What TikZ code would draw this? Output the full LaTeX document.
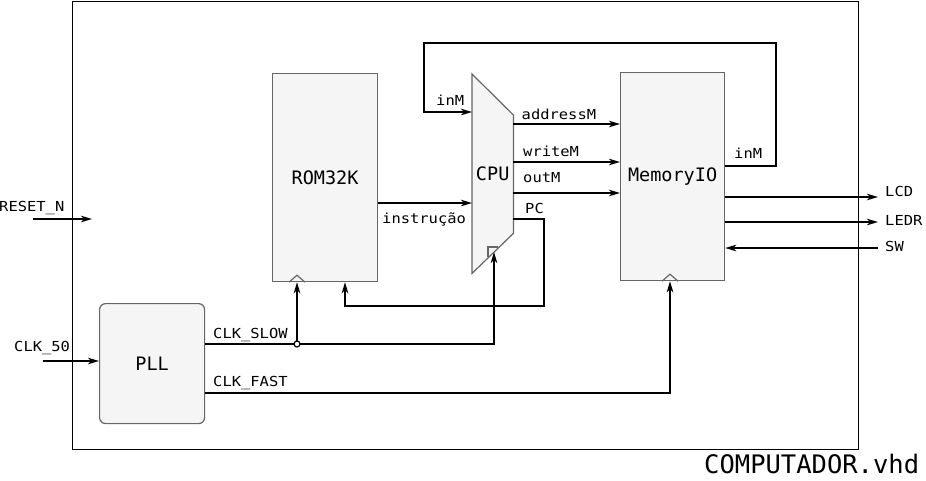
\documentclass[tikz,border=0pt]{standalone}
\usepackage{fontspec}
\setmainfont{DejaVu Sans Mono}
\newfontfamily\lblfont[FakeStretch=1.12]{DejaVu Sans Mono}
\usetikzlibrary{arrows.meta,calc}
\tikzset{
  blk/.style={draw=black!60, fill=black!4, line width=1.2pt, inner sep=0pt,
    font=\fontsize{18.5}{20}\selectfont},
  wire/.style={line width=1.7pt},
  arr/.style={wire,-{Stealth[length=11pt,width=6.5pt,inset=3pt]}},
  lbl/.style={font=\lblfont\fontsize{13.8}{15}\selectfont, inner sep=0pt, anchor=base west},
  notch/.style={draw=black!60, line width=1.2pt},
}
\begin{document}
\begin{tikzpicture}[x=1pt,y=-1pt]
\useasboundingbox (0,0) rectangle (926,480);
% outer frame
\node[draw, line width=1.3pt, minimum width=786pt, minimum height=448pt,
  anchor=north west, inner sep=0pt] (frame) at (72,1) {};
% blocks
\node[blk, minimum width=105pt, minimum height=208pt, anchor=north west] (rom) at (272,73) {ROM32K};
\node[blk, minimum width=104pt, minimum height=208pt, anchor=north west] (mem) at (620,72) {MemoryIO};
\node[blk, rounded corners=6pt, minimum width=105pt, minimum height=120pt, anchor=north west] (pll) at (99,303) {PLL};
% CPU trapezoid
\node[inner sep=0pt, minimum width=41pt, minimum height=199pt, anchor=north west] (cpu) at (472,74) {};
\draw[blk] (cpu.north west) -- ($(cpu.north east)+(0,41)$) -- ($(cpu.south east)+(0,-40)$)
  -- (cpu.south west) -- cycle;
\node[font=\fontsize{18.5}{20}\selectfont] (cpul) at (cpu.center) {CPU};
% clock marks
\draw[notch] (488,257.4) -- (488,247) -- (497.6,247);
\draw[notch] ($(rom.south west)+(17,0)$) -- ($(rom.south west)+(25,-7)$) -- ($(rom.south west)+(33,0)$);
\draw[notch] ($(mem.south west)+(42,0)$) -- ($(mem.south west)+(50,-7)$) -- ($(mem.south west)+(58,0)$);
% external inputs
\coordinate (rs0) at (33,219);
\coordinate (rs1) at (92,219);
\draw[arr] (rs0) -- (rs1);
\node[lbl] (rsl) at (-1,211) {RESET\_N};
\coordinate (c50) at (43,361);
\draw[arr] (c50) -- (c50 -| pll.west);
\node[lbl] (c50l) at (14,351) {CLK\_50};
% instrucao
\draw[arr] (rom.east |- 0,203) -- (cpu.west |- 0,203);
\node[lbl] (insl) at (382,223) {instrução};
% inM loop
\coordinate (l1) at (776,166);
\coordinate (l2) at (776,43);
\coordinate (l3) at (424,43);
\coordinate (l4) at (424,112);
\draw[arr] (mem.east |- l1) -- (l1) -- (l2) -- (l3) -- (l4) -- (cpu.west |- l4);
\node[lbl] (inml) at (436,105) {inM};
\node[lbl] (inmr) at (734,158.5) {inM};
% CPU -> MemoryIO
\draw[arr] (cpu.east |- 0,124) -- (mem.west |- 0,124);
\node[lbl] (adl) at (521.5,119.3) {addressM};
\draw[arr] (cpu.east |- 0,162) -- (mem.west |- 0,162);
\node[lbl] (wrl) at (523,156) {writeM};
\draw[arr] (cpu.east |- 0,193) -- (mem.west |- 0,193);
\node[lbl] (oul) at (523,182.7) {outM};
% PC
\coordinate (p1) at (544,219);
\coordinate (p2) at (544,306);
\coordinate (p3) at (345,306);
\draw[arr] (cpu.east |- p1) -- (p1) -- (p2) -- (p3) -- (p3 |- rom.south);
\node[lbl] (pcl) at (525,213.3) {PC};
% outputs
\coordinate (lcd) at (878,197);
\coordinate (ledr) at (878,222);
\coordinate (sw) at (878,248);
\draw[arr] (mem.east |- lcd) -- (lcd);
\draw[arr] (mem.east |- ledr) -- (ledr);
\draw[arr] (sw) -- (mem.east |- sw);
\node[lbl] (lcdl) at (885,196) {LCD};
\node[lbl] (ledrl) at (885,225) {LEDR};
\node[lbl] (swl) at (885,251.7) {SW};
% clocks
\coordinate (sl1) at (494,344);
\coordinate (cpuclk) at (494,252);
\coordinate (jn) at (297,344);
\draw[arr] (pll.east |- sl1) -- (sl1) -- (cpuclk);
\draw[arr] (jn) -- (jn |- rom.south);
\draw[line width=1.2pt, fill=white] (jn) circle (3pt);
\node[lbl] (slowl) at (213,338.3) {CLK\_SLOW};
\coordinate (f1) at (670,393);
\draw[arr] (pll.east |- f1) -- (f1) -- (f1 |- mem.south);
\node[lbl] (fastl) at (213,386.7) {CLK\_FAST};
% title
\node[font=\fontsize{25.5}{28}\selectfont, inner sep=0pt, anchor=base west] (title) at (704,473.5) {COMPUTADOR.vhd};
\end{tikzpicture}
\end{document}
